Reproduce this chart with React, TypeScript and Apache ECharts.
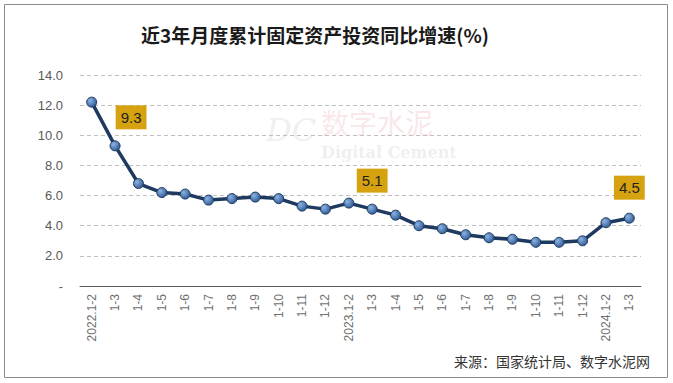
import React, { useEffect, useRef } from "react";
import * as echarts from "echarts";

const categories = [
  "2022.1-2", "1-3", "1-4", "1-5", "1-6", "1-7", "1-8", "1-9", "1-10", "1-11", "1-12",
  "2023.1-2", "1-3", "1-4", "1-5", "1-6", "1-7", "1-8", "1-9", "1-10", "1-11", "1-12",
  "2024.1-2", "1-3",
];
const growth = [
  12.2, 9.3, 6.8, 6.2, 6.1, 5.7, 5.8, 5.9, 5.8, 5.3, 5.1,
  5.5, 5.1, 4.7, 4.0, 3.8, 3.4, 3.2, 3.1, 2.9, 2.9, 3.0,
  4.2, 4.5,
];
const labeledIndex = [1, 12, 23];
const labelShiftX = [16, 0, 0];
const labelDistance = [11, 11, 13];
const yTicks = [0, 2, 4, 6, 8, 10, 12, 14];
const titleText = "近3年月度累计固定资产投资同比增速(%)";
const sourceText = "来源：国家统计局、数字水泥网";

export default function App() {
  const ref = useRef<HTMLDivElement>(null);
  useEffect(() => {
    if (!ref.current) return;
    const chart = echarts.init(ref.current, null, { renderer: "svg" });
    const data = growth.map((v, i) => {
      const k = labeledIndex.indexOf(i);
      if (k < 0) return v;
      return {
        value: v,
        label: {
          show: true,
          position: "top",
          distance: labelDistance[k],
          offset: [labelShiftX[k], 0],
          backgroundColor: "#D6A210",
          padding: [4, 5, 4, 5],
          color: "#222",
          fontSize: 15,
          lineHeight: 16,
          fontFamily: "Liberation Sans, Arial, sans-serif",
          formatter: (p: any) => Number(p.value).toFixed(1),
        },
      };
    });
    chart.setOption({
      animation: false,
      backgroundColor: "#fff",
      title: {
        text: titleText,
        left: 310,
        top: 20,
        textAlign: "center",
        textStyle: {
          fontSize: 19,
          fontWeight: "bold",
          color: "#1a1a1a",
          fontFamily: "Noto Sans CJK SC, sans-serif",
        },
      },
      grid: { left: 80, right: 32, top: 75, bottom: 97 },
      xAxis: {
        type: "category",
        data: categories,
        boundaryGap: true,
        axisLine: { lineStyle: { color: "#595959", width: 1 } },
        axisTick: { show: false },
        axisLabel: {
          rotate: 90,
          interval: 0,
          color: "#707070",
          fontSize: 12,
          margin: 8,
          fontFamily: "Liberation Sans, Arial, sans-serif",
        },
      },
      yAxis: {
        type: "value",
        min: yTicks[0],
        max: yTicks[yTicks.length - 1],
        interval: 2,
        axisLine: { show: false },
        axisTick: { show: false },
        axisLabel: {
          color: "#595959",
          fontSize: 13,
          margin: 17,
          fontFamily: "Liberation Sans, Arial, sans-serif",
          formatter: (v: number) => (v === 0 ? "-" : v.toFixed(1)),
        },
        splitLine: { lineStyle: { color: "#BFBFBF", type: [4, 3], width: 1 } },
      },
      graphic: [
        {
          type: "rect",
          shape: { x: 4.5, y: 4.5, width: 663, height: 373 },
          style: { fill: "none", stroke: "#8c8c8c", lineWidth: 1 },
          silent: true,
          z: 0,
        },
        {
          type: "text",
          x: 266,
          y: 114,
          style: {
            text: "DC",
            fontSize: 32,
            fontStyle: "italic",
            fontFamily: "DejaVu Serif, serif",
            fill: "rgba(205,205,205,0.3)",
          },
          silent: true,
          z: -1,
        },
        {
          type: "text",
          x: 321,
          y: 108,
          style: {
            text: "数字水泥",
            fontSize: 28,
            fontFamily: "Noto Sans CJK SC, serif",
            fill: "rgba(235,170,180,0.28)",
          },
          silent: true,
          z: -1,
        },
        {
          type: "text",
          x: 321,
          y: 144,
          style: {
            text: "Digital Cement",
            fontSize: 16,
            fontWeight: "bold",
            fontFamily: "DejaVu Serif, serif",
            fill: "rgba(200,200,200,0.3)",
          },
          silent: true,
          z: -1,
        },
        {
          type: "text",
          x: 650,
          y: 354,
          style: {
            text: sourceText,
            fontSize: 14,
            align: "right",
            fontFamily: "Noto Sans CJK SC, sans-serif",
            fill: "#333",
          },
          silent: true,
        },
      ],
      series: [
        {
          type: "line",
          data,
          symbol: "circle",
          symbolSize: 10,
          lineStyle: { color: "#1F3A60", width: 3.5 },
          itemStyle: {
            color: {
              type: "radial",
              x: 0.35,
              y: 0.35,
              r: 0.7,
              colorStops: [
                { offset: 0, color: "#8DB3E2" },
                { offset: 1, color: "#2E5A94" },
              ],
            },
            borderColor: "#1F3A60",
            borderWidth: 1,
          },
          label: { show: false },
          z: 3,
        },
      ],
    });
    return () => chart.dispose();
  }, []);
  return (
    <div
      ref={ref}
      style={{ position: "fixed", left: 0, top: 0, width: 673, height: 383 }}
    />
  );
}
